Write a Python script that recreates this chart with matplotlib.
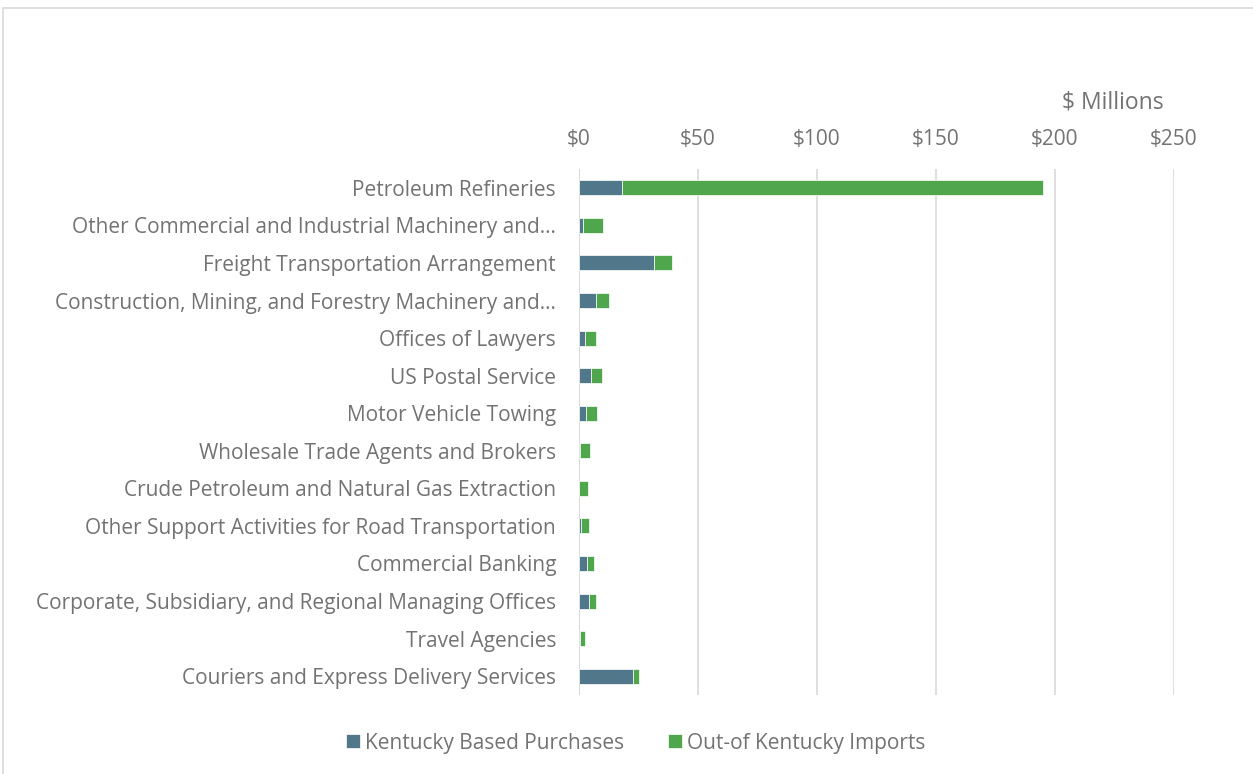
import matplotlib
matplotlib.use("Agg")
import matplotlib.pyplot as plt
from matplotlib.patches import Rectangle

categories = [
    "Petroleum Refineries",
    "Other Commercial and Industrial Machinery and…",
    "Freight Transportation Arrangement",
    "Construction, Mining, and Forestry Machinery and…",
    "Offices of Lawyers",
    "US Postal Service",
    "Motor Vehicle Towing",
    "Wholesale Trade Agents and Brokers",
    "Crude Petroleum and Natural Gas Extraction",
    "Other Support Activities for Road Transportation",
    "Commercial Banking",
    "Corporate, Subsidiary, and Regional Managing Offices",
    "Travel Agencies",
    "Couriers and Express Delivery Services",
]
kentucky = [18.0, 1.7, 31.5, 7.3, 2.7, 5.0, 3.1, 0.4, 0.2, 0.8, 3.5, 4.3, 0.4, 22.5]
imports = [177.0, 8.3, 7.5, 5.2, 4.6, 4.5, 4.5, 4.4, 3.6, 3.4, 2.9, 2.7, 2.3, 2.5]
xticks = [0, 50, 100, 150, 200, 250]
xticklabels = ["$0", "$50", "$100", "$150", "$200", "$250"]

blue = "#50788A"
green = "#4FA64D"
textc = "#737373"

plt.rcParams['font.family'] = ['Open Sans', 'DejaVu Sans']

W, H = 1253, 774
fig = plt.figure(figsize=(W / 100, H / 100), dpi=100)
ax = fig.add_axes([579 / W, 1 - 695 / H, (1174 - 579) / W, (695 - 169) / H])

y = list(range(len(categories)))
ax.barh(y, kentucky, height=0.4, color=blue, edgecolor="white", linewidth=0.5,
        label="Kentucky Based Purchases", zorder=3)
ax.barh(y, imports, left=kentucky, height=0.4, color=green, edgecolor="white",
        linewidth=0.5, label="Out-of Kentucky Imports", zorder=3)

fs = 15
ax.set_ylim(len(categories) - 0.5, -0.5)
ax.set_xlim(0, 250)
ax.set_yticks(y)
ax.set_yticklabels(categories, fontsize=fs, color=textc)
ax.xaxis.tick_top()
ax.set_xticks(xticks)
ax.set_xticklabels(xticklabels, fontsize=fs, color=textc)
ax.tick_params(axis="both", length=0)
ax.tick_params(axis="y", pad=16.5)
ax.tick_params(axis="x", pad=13.7)
ax.grid(axis="x", color="#D9D9D9", linewidth=1.2, zorder=0)
for s in ax.spines.values():
    s.set_visible(False)
ax.axvline(0, color="#D9D9D9", linewidth=1.2, zorder=1)

fig.text(1113 / W, 1 - 103 / H, "$ Millions", fontsize=16.5, color=textc,
         ha="center", va="center")

handles, labels = ax.get_legend_handles_labels()
fig.legend(handles, labels, loc="center", bbox_to_anchor=(636 / W, 1 - 743 / H),
           ncol=2, frameon=False, fontsize=fs, labelcolor=textc,
           handlelength=0.67, handleheight=0.67, handletextpad=0.25, columnspacing=2.1)

fig.patches.append(Rectangle((3 / W, -0.1), 1.2, 1.1 - 8 / H, transform=fig.transFigure,
                             fill=False, edgecolor="#D9D9D9", linewidth=1.2))

fig.savefig("out.png", dpi=100)
